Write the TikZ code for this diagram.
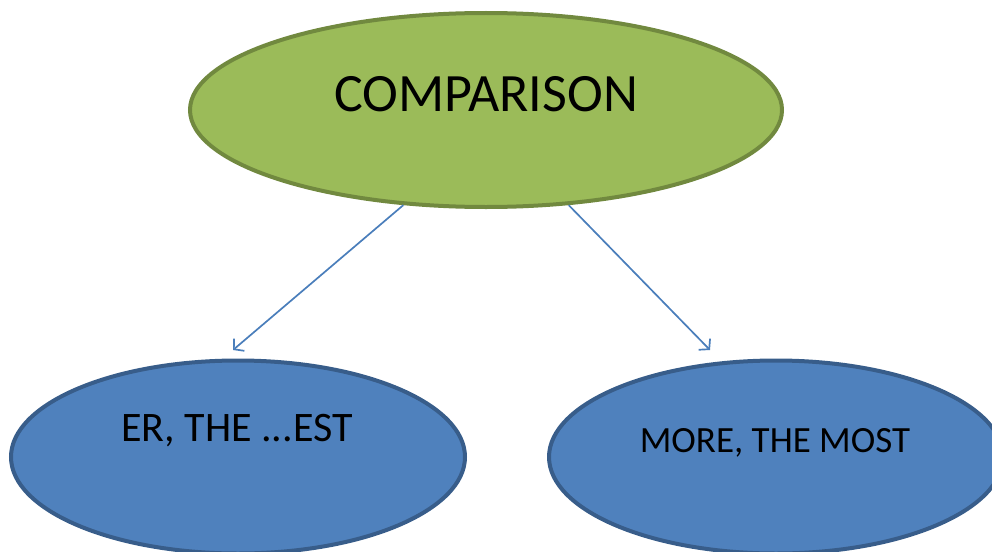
\documentclass[tikz,border=0pt]{standalone}
\usepackage{fontspec}
\setmainfont{Carlito}
\usetikzlibrary{shapes.geometric,arrows.meta}
\definecolor{topfill}{HTML}{9BBB59}
\definecolor{topline}{HTML}{71893F}
\definecolor{subfill}{HTML}{4F81BD}
\definecolor{subline}{HTML}{385D8A}
\definecolor{arrowblue}{HTML}{4A7EBB}
\tikzset{
  topnode/.style={ellipse,draw=topline,fill=topfill,line width=4pt,
    minimum width=592pt,minimum height=194pt,inner sep=0pt},
  subnode/.style={ellipse,draw=subline,fill=subfill,line width=4pt,
    minimum width=454pt,minimum height=193pt,inner sep=0pt},
  link/.style={draw=arrowblue,line width=1.7pt,-{Straight Barb[length=7pt,width=16pt]}}
}
\begin{document}
\begin{tikzpicture}[x=1pt,y=-1pt]
  \useasboundingbox (0,0) rectangle (992,551);
  \clip (0,0) rectangle (992,551);
  \node[topnode] (cmp) at (486,110) {};
  \node[subnode] (er) at (238,457) {};
  \node[subnode] (mm) at (776,457) {};
  \node at (486,94) (cmptext) {\fontsize{54}{60}\selectfont COMPARISON};
  \node at (237,431) (ertext) {\fontsize{42}{48}\selectfont ER, THE ...EST};
  \node at (775,443) (mmtext) {\fontsize{37}{43}\selectfont MORE, THE MOST};
  \coordinate (erin) at (233,350);
  \coordinate (mmin) at (710,350);
  \draw[link] (cmp.229.8) to (erin);
  \draw[link] (cmp.311.2) to (mmin);
\end{tikzpicture}
\end{document}
